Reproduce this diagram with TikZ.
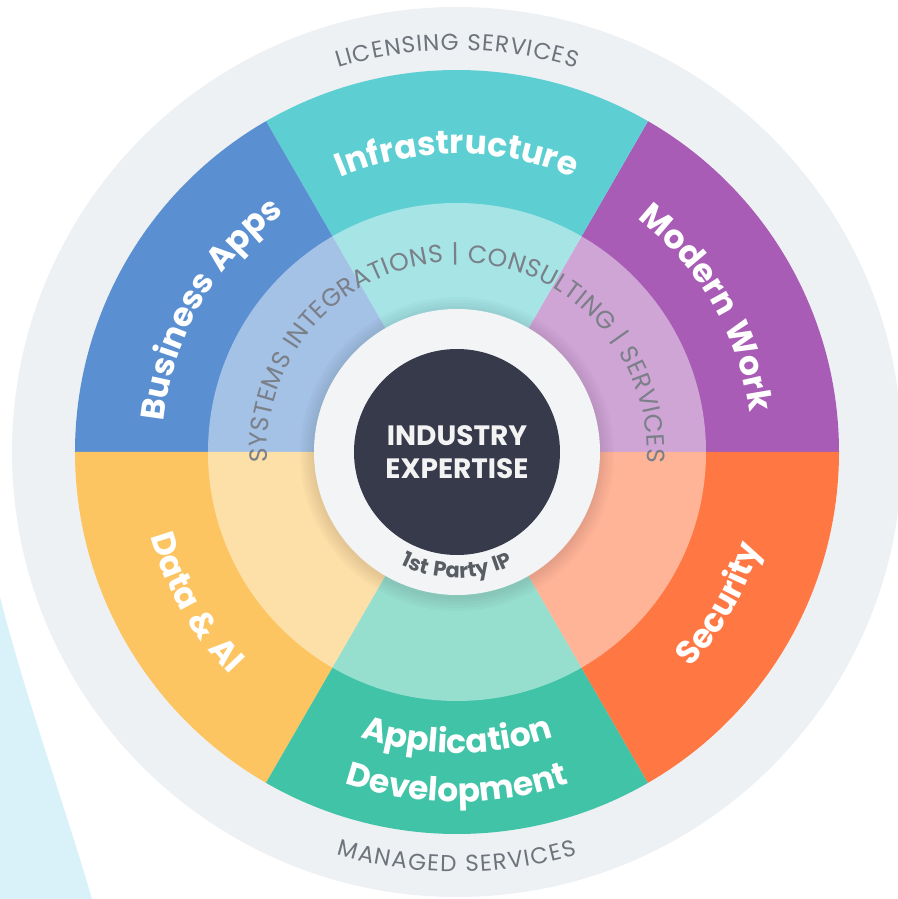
\documentclass[tikz,border=0pt]{standalone}
\usepackage{fontspec}
\setmainfont{Poppins}
\usepackage{tikz}
\definecolor{BizBlue}{HTML}{5A8FD2}
\definecolor{InfraTeal}{HTML}{5DCFD2}
\definecolor{WorkPurple}{HTML}{A85CB5}
\definecolor{SecOrange}{HTML}{FF7843}
\definecolor{AppGreen}{HTML}{40C3A6}
\definecolor{DataYellow}{HTML}{FDC562}
\definecolor{RimGrey}{HTML}{EEF1F3}
\definecolor{HubWhite}{HTML}{F2F4F6}
\definecolor{CoreDark}{HTML}{363A4A}
\definecolor{SkyBlue}{HTML}{D9F2FA}
\definecolor{CaptionGrey}{HTML}{6E737C}
\definecolor{BandGrey}{HTML}{7A7F88}

\newcommand{\segfont}{\fontsize{33}{33}\selectfont\bfseries\color{white}}
\newcommand{\rimfont}{\fontsize{23}{23}\selectfont\color{CaptionGrey}}
\newcommand{\bandfont}{\fontsize{25}{25}\selectfont\color{BandGrey}}
\newcommand{\ipfont}{\fontsize{21}{21}\selectfont\bfseries\color{CaptionGrey!80!black}}

% one glyph on the ring
\newcommand{\arcchar}[4]{\node[anchor=base, inner sep=0pt, rotate=#3] at (#1,#2) {#4};}

% text on a circle: [tracking], centre angle, radius, 1 = clockwise / -1 = counterclockwise, format, text
\ExplSyntaxOn
\box_new:N \l__arc_box
\dim_new:N \l__arc_total_dim
\fp_new:N \l__arc_ang_fp
\fp_new:N \l__arc_half_fp
\cs_new_protected:Npn \__arc_measure:nn #1#2
  {
    \str_if_eq:nnTF {#2} { ~ }
      { \hbox_set:Nn \l__arc_box { \pgfinterruptpicture #1 \kern 0.28em \endpgfinterruptpicture } }
      { \hbox_set:Nn \l__arc_box { \pgfinterruptpicture #1 #2 \endpgfinterruptpicture } }
  }
\NewDocumentCommand \arctext { O{0pt} m m m m m }
  {
    \dim_zero:N \l__arc_total_dim
    \str_map_inline:nn {#6}
      {
        \__arc_measure:nn {#5} {##1}
        \dim_add:Nn \l__arc_total_dim { \box_wd:N \l__arc_box + #1 }
      }
    \fp_set:Nn \l__arc_ang_fp
      { #2 + (#4) * \dim_to_fp:n { \l__arc_total_dim } / (#3) * 28.647890 }
    \str_map_inline:nn {#6}
      {
        \__arc_measure:nn {#5} {##1}
        \fp_set:Nn \l__arc_half_fp
          { \dim_to_fp:n { \box_wd:N \l__arc_box + #1 } / (#3) * 28.647890 }
        \fp_sub:Nn \l__arc_ang_fp { (#4) * \l__arc_half_fp }
        \str_if_eq:nnF {##1} { ~ }
          {
            \use:e
              {
                \exp_not:N \arcchar
                  { \fp_eval:n { round( (#3) * cosd(\l__arc_ang_fp), 3) } }
                  { \fp_eval:n { round( (#3) * sind(\l__arc_ang_fp), 3) } }
                  { \fp_eval:n { round( \l__arc_ang_fp - (#4) * 90, 3) } }
              }
              { #5 ##1 }
          }
        \fp_sub:Nn \l__arc_ang_fp { (#4) * \l__arc_half_fp }
      }
  }
\ExplSyntaxOff

\begin{document}
\begin{tikzpicture}[x=1pt, y=1pt]
\useasboundingbox (-457,-447) rectangle (440,452);
\fill[white] (-457,-447) rectangle (440,452);

% Background blob
\fill[SkyBlue] (-457,-145) .. controls (-430,-250) and (-395,-345) .. (-365,-447)
    -- (-457,-447) -- cycle;

% Outer rim
\fill[RimGrey] (0,0) circle (445);

% Sectors
\foreach \ang/\col in {0/WorkPurple, 60/InfraTeal, 120/BizBlue, 180/DataYellow, 240/AppGreen, 300/SecOrange}
  \fill[\col] (0,0) -- (\ang:382) arc[start angle=\ang, end angle=\ang+60, radius=382] -- cycle;

% Inner band
\fill[white, opacity=0.45] (0,0) circle (249);
\foreach \r in {145,148,151,154,157}
  \fill[black, opacity=0.018] (0,-2) circle (\r);

% Hub and core
\node[circle, fill=HubWhite, minimum size=286, inner sep=0] (hub) at (0,0) {};
\node[circle, fill=CoreDark, minimum size=206, inner sep=0, align=center,
      text=white!94!CoreDark, font=\fontsize{28}{33}\selectfont\bfseries] (core) at (0,0) {INDUSTRY\\EXPERTISE};

% Segment labels
\arctext{90}{298}{1}{\segfont}{Infrastructure}
\arctext{150}{295}{1}{\segfont}{Business Apps}
\arctext{30}{295}{1}{\segfont}{Modern Work}
\arctext{330}{318}{-1}{\segfont}{Security}
\arctext{210}{318}{-1}{\segfont}{Data & AI}
\arctext{270}{301}{-1}{\segfont}{Application}
\arctext{270}{350}{-1}{\segfont}{Development}

% Rim and band captions
\arctext[1pt]{90}{402}{1}{\rimfont}{LICENSING SERVICES}
\arctext[1.4pt]{270}{420}{-1}{\rimfont}{MANAGED SERVICES}
\arctext[0.5pt]{90}{190}{1}{\bandfont}{SYSTEMS INTEGRATIONS | CONSULTING | SERVICES}
\arctext{270}{126}{-1}{\ipfont}{1st Party IP}

\end{tikzpicture}
\end{document}
